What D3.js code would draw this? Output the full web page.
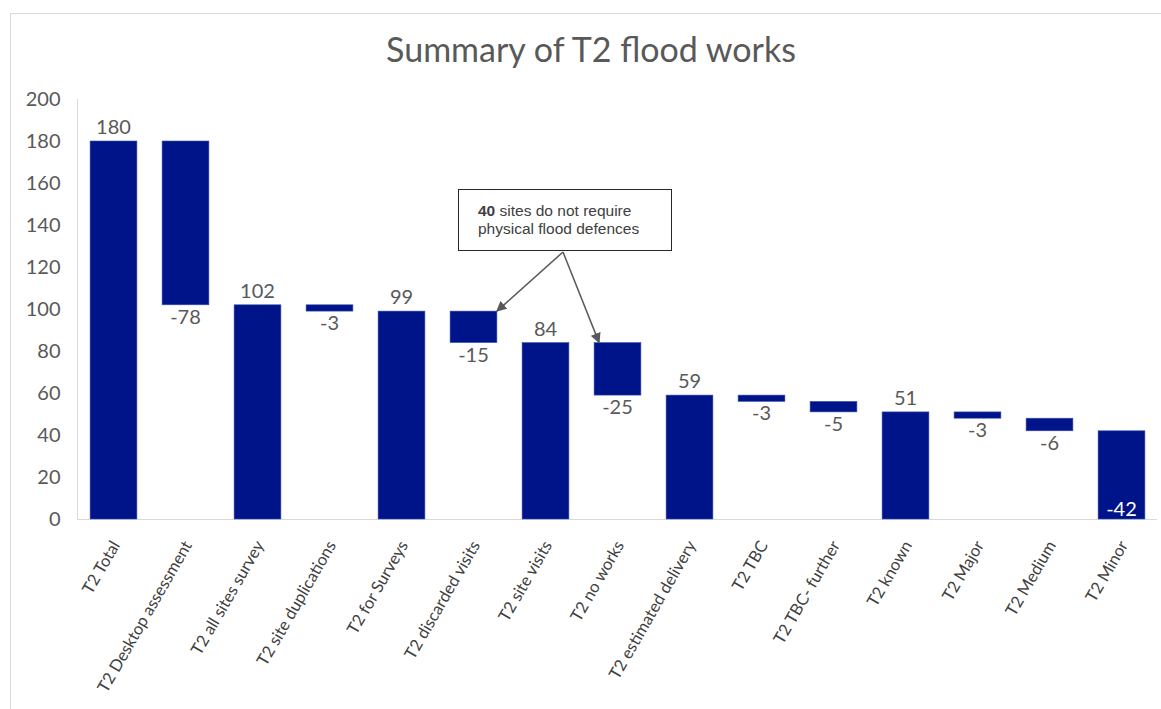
<!DOCTYPE html>
<html>
<head>
<meta charset="utf-8">
<script src="https://cdn.jsdelivr.net/npm/d3@7"></script>
<style>
  body { margin: 0; background: #fff; }
  svg { display: block; }
</style>
</head>
<body>
<svg id="chart" width="1161" height="709"></svg>
<script>
// categories, values and whether the bar is a running total
var categories = ["T2 Total", "T2 Desktop assessment", "T2 all sites survey", "T2 site duplications",
  "T2 for Surveys", "T2 discarded visits", "T2 site visits", "T2 no works", "T2 estimated delivery",
  "T2 TBC", "T2 TBC- further", "T2 known", "T2 Major", "T2 Medium", "T2 Minor"];
var values = [180, -78, 102, -3, 99, -15, 84, -25, 59, -3, -5, 51, -3, -6, -42];
var isTotal = [true, false, true, false, true, false, true, false, true, false, false, true, false, false, false];
var yTicks = [0, 20, 40, 60, 80, 100, 120, 140, 160, 180, 200];
var noteBold = "40";
var noteLines = [" sites do not require", "physical flood defences"];
var noteTargets = ["T2 discarded visits", "T2 no works"];

var svg = d3.select("#chart");
var font = "Lato, 'Open Sans', sans-serif";
var barColor = "#001489";

// work out start / end of each floating bar
var running = 0;
var bars = categories.map(function(c, i) {
  var start, end;
  if (isTotal[i]) { start = 0; end = values[i]; running = values[i]; }
  else { start = running; end = running + values[i]; running = end; }
  return { name: c, value: values[i], total: isTotal[i], lo: Math.min(start, end), hi: Math.max(start, end) };
});

var x = d3.scaleBand().domain(categories).range([77.5, 1157.5]).paddingInner(0.35).paddingOuter(0.175);
var y = d3.scaleLinear().domain([0, 200]).range([519, 99]);

// outer chart border (only top and left show in the frame)
svg.append("rect").attr("x", 10.5).attr("y", 13.5).attr("width", 1180).attr("height", 720)
  .attr("fill", "none").attr("stroke", "#d9d9d9");

svg.append("text").attr("x", 591).attr("y", 62).attr("text-anchor", "middle")
  .style("font-family", font).style("font-size", "34px").attr("fill", "#595959")
  .text("Summary of T2 flood works");

// y axis
var yAxis = svg.append("g").attr("transform", "translate(77.5,0)")
  .call(d3.axisLeft(y).tickValues(yTicks).tickSize(0).tickPadding(17));
yAxis.select(".domain").attr("stroke", "#d9d9d9").attr("d", "M0," + y(200) + "V" + y(0));
yAxis.selectAll("text").style("font-family", font).style("font-size", "20px").attr("fill", "#595959");

// baseline
svg.append("line").attr("x1", 77).attr("x2", 1157).attr("y1", y(0) + 0.5).attr("y2", y(0) + 0.5)
  .attr("stroke", "#d9d9d9");

// bars
svg.append("g").selectAll("rect").data(bars).enter().append("rect")
  .attr("x", function(d) { return x(d.name); })
  .attr("width", x.bandwidth())
  .attr("y", function(d) { return y(d.hi); })
  .attr("height", function(d) { return y(d.lo) - y(d.hi); })
  .attr("fill", barColor)
  .attr("stroke", "#3a50b5").attr("stroke-width", 0.6);

// value labels
svg.append("g").selectAll("text").data(bars).enter().append("text")
  .attr("x", function(d) { return x(d.name) + x.bandwidth() / 2; })
  .attr("y", function(d) {
    if (d.total) return y(d.hi) - 7;
    if (d.lo === 0) return y(d.lo) - 3;
    return y(d.lo) + 19;
  })
  .attr("text-anchor", "middle")
  .style("font-family", font).style("font-size", "20px")
  .attr("fill", function(d) { return (!d.total && d.lo === 0) ? "#ffffff" : "#595959"; })
  .text(function(d) { return d.value; });

// category labels, rotated
svg.append("g").selectAll("text").data(categories).enter().append("text")
  .attr("transform", function(d) { return "translate(" + (x(d) + x.bandwidth() / 2 + 7) + ",545) rotate(-60)"; })
  .attr("text-anchor", "end")
  .style("font-family", font).style("font-size", "16.5px").attr("fill", "#404040")
  .text(function(d) { return d; });

// annotation box with arrows
var defs = svg.append("defs");
defs.append("marker").attr("id", "arrow").attr("viewBox", "0 0 10 10").attr("refX", 9).attr("refY", 5)
  .attr("markerWidth", 7).attr("markerHeight", 7).attr("orient", "auto-start-reverse")
  .append("path").attr("d", "M0,0L10,5L0,10z").attr("fill", "#595959");

var from = [563, 252];
var b1 = bars[categories.indexOf(noteTargets[0])];
var b2 = bars[categories.indexOf(noteTargets[1])];
var tips = [[x(b1.name) + x.bandwidth(), y(b1.hi)], [x(b2.name) + 5, y(b2.hi)]];
svg.append("g").selectAll("line").data(tips).enter().append("line")
  .attr("x1", from[0]).attr("y1", from[1])
  .attr("x2", function(d) { return d[0]; }).attr("y2", function(d) { return d[1]; })
  .attr("stroke", "#595959").attr("stroke-width", 1.5).attr("marker-end", "url(#arrow)");

svg.append("rect").attr("x", 458.5).attr("y", 189.5).attr("width", 213).attr("height", 61)
  .attr("fill", "#fff").attr("stroke", "#262626").attr("stroke-width", 1);
var note = svg.append("text").attr("x", 478).attr("y", 216)
  .style("font-family", "'Liberation Sans', Arial, sans-serif").style("font-size", "15.5px").attr("fill", "#404040");
note.append("tspan").style("font-weight", "bold").text(noteBold);
note.append("tspan").text(noteLines[0]);
note.append("tspan").attr("x", 478).attr("dy", 18).text(noteLines[1]);
</script>
</body>
</html>
